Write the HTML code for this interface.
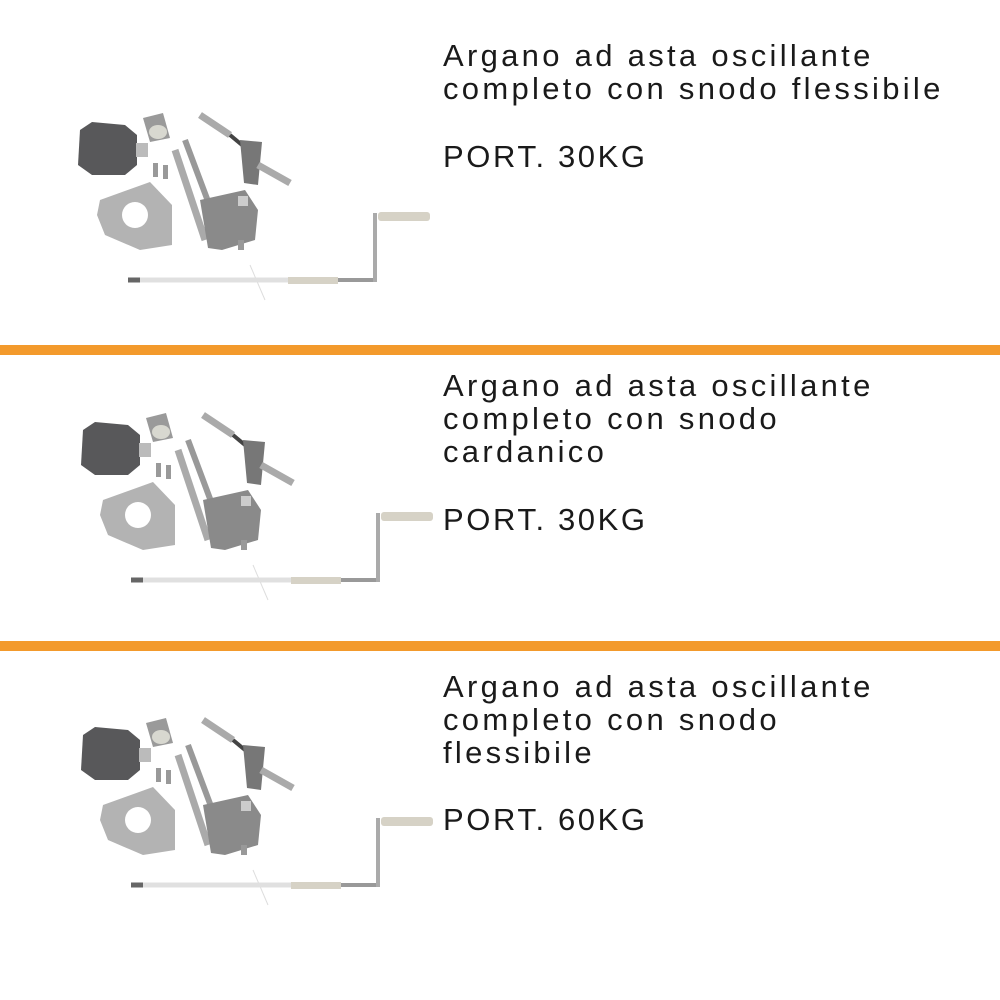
<!DOCTYPE html>
<html><head><style>
html,body{margin:0;padding:0;background:#fff;}
body{width:1000px;height:1000px;position:relative;overflow:hidden;font-family:"Liberation Sans",sans-serif;}
.bar{position:absolute;left:0;width:1000px;height:10px;background:#f39a2c;}
.t{position:absolute;left:443px;font-size:31px;line-height:33px;color:#1a1a1a;letter-spacing:3.3px;white-space:nowrap;}
.p{letter-spacing:2.6px;}
svg{position:absolute;left:0;top:0;}
</style></head><body>
<svg width="1000" height="1000">
<defs>
<g id="kit">
 <polygon points="80,130 92,122 125,125 137,135 137,165 125,175 92,175 78,165" fill="#58585a"/>
 <rect x="136" y="143" width="12" height="14" fill="#bbb"/>
 <polygon points="143,118 163,113 170,138 150,142" fill="#9a9a9a"/>
 <ellipse cx="158" cy="132" rx="9" ry="7" fill="#d8d8d0"/>
 <rect x="153" y="163" width="5" height="14" fill="#999"/><rect x="163" y="165" width="5" height="14" fill="#999"/>
 <polygon points="100,200 150,182 172,205 172,245 140,250 105,235 97,215" fill="#b3b3b3"/>
 <circle cx="135" cy="215" r="13" fill="#fff"/>
 <line x1="175" y1="150" x2="205" y2="240" stroke="#aaa" stroke-width="7"/>
 <line x1="185" y1="140" x2="215" y2="220" stroke="#999" stroke-width="6"/>
 <polygon points="200,200 245,190 258,210 255,240 222,250 208,248" fill="#8a8a8a"/>
 <rect x="238" y="196" width="10" height="10" fill="#ccc"/>
 <rect x="238" y="240" width="6" height="10" fill="#999"/>
 <line x1="200" y1="115" x2="230" y2="135" stroke="#aaa" stroke-width="7"/>
 <line x1="230" y1="135" x2="248" y2="150" stroke="#444" stroke-width="4"/>
 <polygon points="240,140 262,142 258,185 244,183" fill="#777"/>
 <line x1="258" y1="165" x2="290" y2="183" stroke="#aaa" stroke-width="7"/>
 <line x1="250" y1="265" x2="265" y2="300" stroke="#ddd" stroke-width="1"/>
 <line x1="128" y1="280" x2="288" y2="280" stroke="#e0e0e0" stroke-width="5"/>
 <line x1="128" y1="280" x2="140" y2="280" stroke="#666" stroke-width="5"/>
 <rect x="288" y="277" width="50" height="7" fill="#d6d2c6"/>
 <line x1="338" y1="280" x2="376" y2="280" stroke="#999" stroke-width="4"/>
 <line x1="375" y1="213" x2="375" y2="282" stroke="#aaa" stroke-width="4"/>
 <rect x="378" y="212" width="52" height="9" rx="3" fill="#d6d2c6"/>
</g>
</defs>
<use href="#kit"/>
<use href="#kit" transform="translate(3,300)"/>
<use href="#kit" transform="translate(3,605)"/>
</svg>
<div class="bar" style="top:345px"></div>
<div class="bar" style="top:641px"></div>
<div class="t" style="top:39px">Argano ad asta oscillante<br>completo con snodo flessibile</div>
<div class="t p" style="top:140px">PORT. 30KG</div>
<div class="t" style="top:369px">Argano ad asta oscillante<br>completo con snodo<br>cardanico</div>
<div class="t p" style="top:503px">PORT. 30KG</div>
<div class="t" style="top:670px">Argano ad asta oscillante<br>completo con snodo<br>flessibile</div>
<div class="t p" style="top:803px">PORT. 60KG</div>
</body></html>
